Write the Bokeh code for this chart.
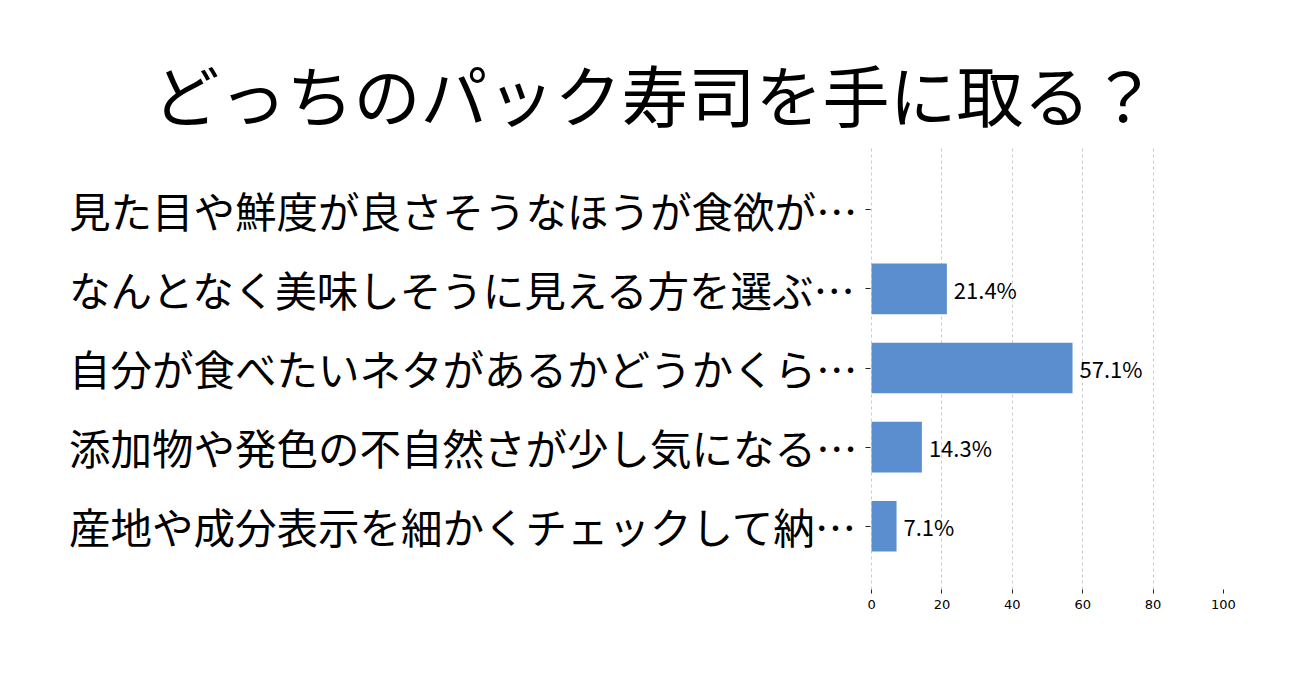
from bokeh.plotting import figure
from bokeh.models import FactorRange, Range1d, ColumnDataSource, FixedTicker, Title
from bokeh.core.properties import value
from bokeh.embed import file_html
from bokeh.resources import INLINE

title_text = "どっちのパック寿司を手に取る？"
categories = [
    "見た目や鮮度が良さそうなほうが食欲が…",
    "なんとなく美味しそうに見える方を選ぶ…",
    "自分が食べたいネタがあるかどうかくら…",
    "添加物や発色の不自然さが少し気になる…",
    "産地や成分表示を細かくチェックして納…",
]
percent = [0.0, 21.4, 57.1, 14.3, 7.1]
x_ticks = [0, 20, 40, 60, 80, 100]

FONT = "Noto Sans CJK JP"
BAR_COLOR = "#5b8ecf"
TEXT_COLOR = "#000000"

FRAME_LEFT = 870
FRAME_TOP = 146

p = figure(
    width=1290, height=667,
    y_range=FactorRange(factors=list(reversed(categories)), range_padding=0.3,
                        range_padding_units="absolute"),
    x_range=Range1d(-0.3, 100),
    output_backend="svg", toolbar_location=None,
    min_border_left=FRAME_LEFT, min_border_right=1290 - 1223,
    min_border_top=FRAME_TOP, min_border_bottom=667 - 589,
)
p.outline_line_color = None
p.background_fill_color = "white"
p.border_fill_color = "white"

src = ColumnDataSource(dict(cat=categories, val=percent,
                            lbl=[f"{v:.1f}%" if v > 0 else "" for v in percent]))
p.hbar(y="cat", right="val", left=0, height=0.64, source=src,
       fill_color=BAR_COLOR, line_color=None)
p.text(x="val", y="cat", text="lbl", source=src, x_offset=7,
       text_font=value(FONT), text_font_size="22px", text_baseline="middle",
       text_align="left", text_color=TEXT_COLOR)

# axes
p.xaxis.ticker = FixedTicker(ticks=x_ticks)
p.xaxis.axis_line_color = None
p.xaxis.major_tick_line_color = "#222222"
p.xaxis.major_tick_in = 0
p.xaxis.major_tick_out = 4
p.xaxis.minor_tick_line_color = None
p.xaxis.major_label_text_font = "DejaVu Sans"
p.xaxis.major_label_text_font_size = "13px"
p.xaxis.major_label_text_color = TEXT_COLOR
p.xaxis.major_label_standoff = 6

p.yaxis.axis_line_color = None
p.yaxis.major_tick_line_color = "#222222"
p.yaxis.major_tick_in = 0
p.yaxis.major_tick_out = 5
p.yaxis.major_label_text_font = FONT
p.yaxis.major_label_text_font_size = "41.5px"
p.yaxis.major_label_text_color = TEXT_COLOR
p.yaxis.major_label_standoff = 8

p.ygrid.grid_line_color = None
p.xgrid.ticker = FixedTicker(ticks=[0, 20, 40, 60, 80])
p.xgrid.grid_line_color = "#cccccc"
p.xgrid.grid_line_dash = "3 3"
p.xgrid.grid_line_width = 1

p.title = Title(text=title_text, align="left", offset=160 - FRAME_LEFT - 8,
                text_font=FONT, text_font_size="67px", text_font_style="normal",
                text_color=TEXT_COLOR, standoff=12)

open("out.html", "w").write(file_html(p, INLINE))
